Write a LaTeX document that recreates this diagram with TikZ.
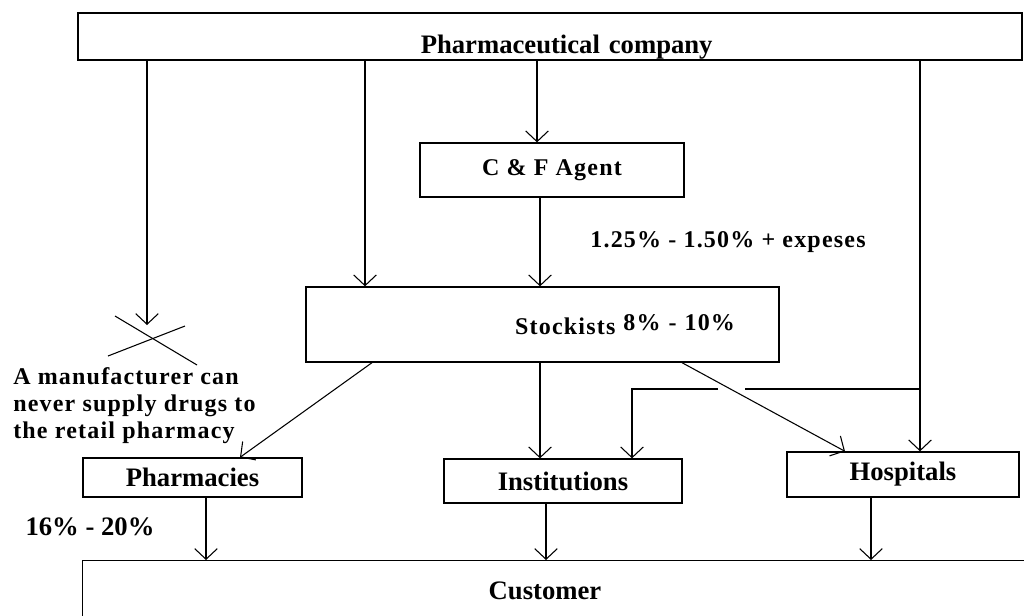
\documentclass[tikz,border=0pt]{standalone}
\usepackage{fontspec}
\setmainfont{Liberation Serif}
\newfontfamily\spacedfont[LetterSpace=5]{Liberation Serif}
\usetikzlibrary{arrows.meta}

\begin{document}
\begin{tikzpicture}[x=0.75pt,y=0.75pt,yscale=-1,xscale=1,
    box/.style={draw, line width=1pt, inner sep=0pt, align=center},
    plain/.style={font=\bfseries\fontsize{20}{24}\selectfont},
    spaced/.style={font=\spacedfont\bfseries\fontsize{18}{20.25}\selectfont},
    arr/.style={line width=0.8pt, -{Straight Barb[length=8pt,width=17pt]}},
    lin/.style={line width=0.8pt}]
\useasboundingbox (0,0) rectangle (1024,615);
\clip (0,0) rectangle (1024,615);

% boxes
\node (pharma) [box, plain, anchor=base, text width=708pt, text height=30pt, text depth=5.25pt] at (550,53) {\hspace*{25pt}Pharmaceutical company};
\node (cfagent) [box, spaced, minimum width=198pt, minimum height=40.5pt] at (552,170) {C \& F Agent};
\node (stockists) [box, spaced, text width=288.75pt, inner xsep=33pt, align=right, minimum height=56.25pt] at (542.5,324.5) {Stockists \raisebox{3.5pt}{8\% - 10\%}};
\node (pharmacies) [box, plain, minimum width=164.25pt, minimum height=29.25pt] at (192.5,477.5) {Pharmacies};
\node (institutions) [box, plain, minimum width=178.5pt, minimum height=33pt] at (563,481) {Institutions};
\node (hospitals) [box, plain, minimum width=174pt, minimum height=33.75pt] at (903,474.5) {Hospitals};
\node (customer) [box, plain, anchor=north west, text width=718.5pt, text height=29.25pt, text depth=30pt] at (82,560) {\hspace*{-25pt}Customer};

% labels
\node (margin) [spaced] at (728,242) {1.25\% - 1.50\% + expeses};
\node (retail) [plain] at (90,527) {16\% - 20\%};
\node (note) [spaced, anchor=north west, align=left, inner sep=0pt] at (13,367) {A manufacturer can\\never supply drugs to\\the retail pharmacy};

\coordinate (nosupply) at (147,325);
\coordinate (branch) at (920,389);

% from the company
\draw [arr] (nosupply |- pharma.south) -- (nosupply);
\draw [arr] (365,0 |- pharma.south) -- (365,0 |- stockists.north);
\draw [arr] (537,0 |- pharma.south) -- (537,0 |- cfagent.north);
\draw [arr] (branch |- pharma.south) -- (branch |- hospitals.north);
\draw [arr] (540,0 |- cfagent.south) -- (540,0 |- stockists.north);

% from the stockists
\draw [arr] (372,0 |- stockists.south) -- (240,0 |- pharmacies.north);
\draw [arr] (540,0 |- stockists.south) -- (540,0 |- institutions.north);
\draw [arr] (682,0 |- stockists.south) -- (845,0 |- hospitals.north);
\draw [lin] (branch) -- (745,0 |- branch);
\draw [arr] (718,0 |- branch) -- (632,0 |- branch) -- (632,0 |- institutions.north);

% to the customer
\draw [arr] (206,0 |- pharmacies.south) -- (206,0 |- customer.north);
\draw [arr] (546,0 |- institutions.south) -- (546,0 |- customer.north);
\draw [arr] (871,0 |- hospitals.south) -- (871,0 |- customer.north);

% crossed out
\draw [lin] (115,316) -- (197,365);
\draw [lin] (108,356) -- (185,326);
\end{tikzpicture}
\end{document}
